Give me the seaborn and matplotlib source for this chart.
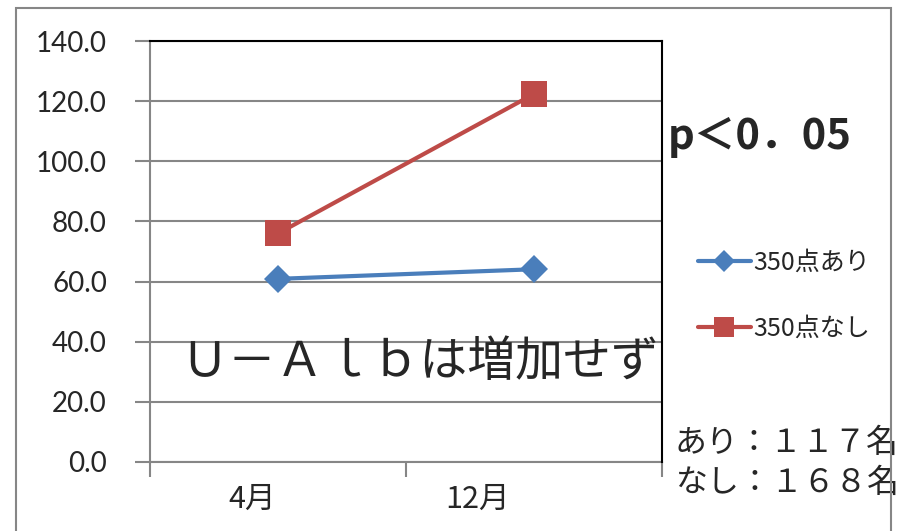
import pandas as pd
import matplotlib.pyplot as plt
import matplotlib.transforms as mtransforms
import seaborn as sns
from matplotlib.patches import Rectangle

months = ["4月", "12月"]
ari_values = [60.9, 64.1]
nashi_values = [76.0, 122.4]
series_names = ["350点あり", "350点なし"]
y_ticks = [0, 20, 40, 60, 80, 100, 120, 140]

W, H = 906, 531


def fx(px):
    return px / W


def fy(py):
    return 1 - py / H


def build_frame() -> pd.DataFrame:
    rows = []
    for name, values in zip(series_names, [ari_values, nashi_values]):
        for i, v in enumerate(values):
            rows.append({"pos": i, "value": v, "group": name})
    return pd.DataFrame(rows)


sns.set_style("white")
plt.rcParams["font.family"] = ["Noto Sans CJK JP", "DejaVu Sans"]

fig = plt.figure(figsize=(W / 100, H / 100), dpi=100)
ax = fig.add_axes([fx(150), fy(462), fx(662) - fx(150), fy(41) - fy(462)])

df = build_frame()
palette = {"350点あり": "#4A7EBB", "350点なし": "#BE4B48"}
sns.lineplot(data=df, x="pos", y="value", hue="group", style="group",
             markers={"350点あり": "D", "350点なし": "s"}, dashes=False,
             palette=palette, linewidth=3, ax=ax, legend=False)
for line, ms in zip(ax.lines, [14, 19]):
    line.set_markersize(ms)
    line.set_markeredgewidth(0)

ax.set_xlim(-0.5, 1.5)
ax.set_ylim(0, 140)
ax.set_yticks(y_ticks)
ax.set_yticklabels([f"{t:.1f}" for t in y_ticks], family="Lato")
ax.set_xticks([-0.5, 0.5, 1.5], minor=True)
ax.set_xticks([0, 1])
ax.set_xticklabels(months)
ax.tick_params(axis="x", which="major", bottom=True, length=0, pad=16)
ax.tick_params(axis="x", which="minor", bottom=True, length=11, width=1.5,
               color="#868686")
ax.tick_params(axis="y", left=True, length=11, width=1.5, color="#868686",
               pad=20, labelsize=20)
# Excel places the month labels a bit left of the category centre
for label, dx in zip(ax.get_xticklabels(), [-26, -56]):
    label.set_fontsize(22)
    label.set_transform(label.get_transform() +
                        mtransforms.ScaledTranslation(dx / 100, 0, fig.dpi_scale_trans))
ax.set_xlabel("")
ax.set_ylabel("")
ax.grid(axis="y", color="#868686", linewidth=1.5)
ax.set_axisbelow(True)
for side in ["left", "bottom"]:
    ax.spines[side].set_color("#868686")
    ax.spines[side].set_linewidth(1.5)
for side in ["top", "right"]:
    ax.spines[side].set_color("black")
    ax.spines[side].set_linewidth(1.5)
    ax.spines[side].set_zorder(3)

# legend
handles = [plt.Line2D([], [], color=palette[n], marker=m, markersize=s,
                      markeredgewidth=0, linewidth=3)
           for n, m, s in zip(series_names, ["D", "s"], [11, 14])]
fig.legend(handles, series_names, loc="upper left",
           bbox_to_anchor=(fx(698), fy(250)), frameon=False, fontsize=18,
           handlelength=2.1, handletextpad=0.1, labelspacing=1.6,
           borderpad=0, borderaxespad=0)

fig.text(fx(668), fy(137), "p＜0．05", fontsize=30, fontweight="bold",
         va="center", ha="left")
fig.text(fx(180), fy(362), "Ｕ－Ａｌｂは増加せず", fontsize=34.5,
         va="center", ha="left")
fig.text(fx(675), fy(443), "あり：１１７名", fontsize=23, va="center", ha="left")
fig.text(fx(675), fy(483), "なし：１６８名", fontsize=23, va="center", ha="left")

fig.patches.append(Rectangle((fx(16), -0.05), fx(891) - fx(16), fy(8) + 0.05,
                             transform=fig.transFigure, fill=False,
                             edgecolor="#868686", linewidth=1.5, zorder=10))

fig.savefig("out.png", dpi=100)
